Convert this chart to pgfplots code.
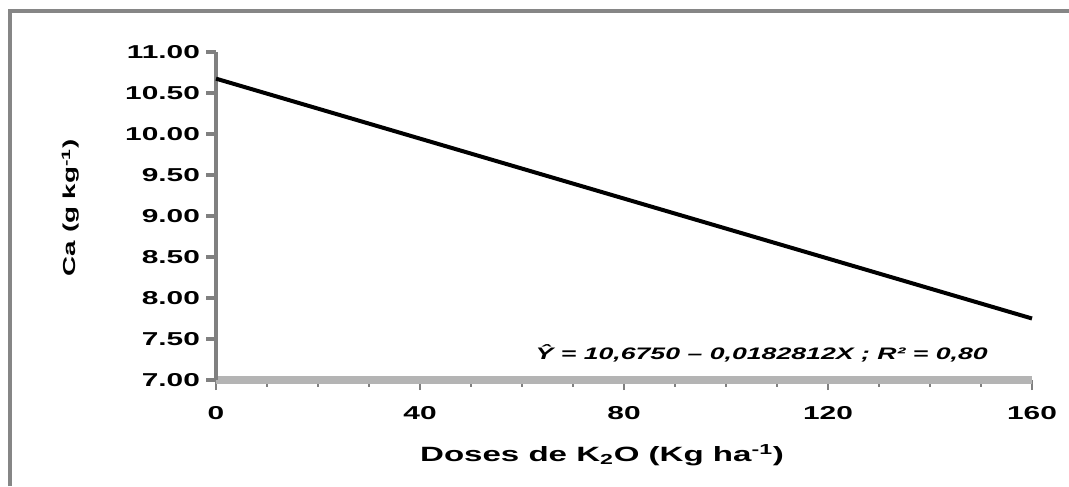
\documentclass[border=0pt]{standalone}
\usepackage{fontspec}
\setmainfont[FakeStretch=1.6]{Liberation Sans}
\usepackage{pgfplots}
\pgfplotsset{compat=1.18}
\definecolor{yaxisgray}{HTML}{808080}
\definecolor{xaxisgray}{HTML}{B4B4B4}
\definecolor{framegray}{HTML}{868686}
\begin{document}
\begin{tikzpicture}
\useasboundingbox (0,0) rectangle (801.75pt,364.5pt);
% outer frame (top and left edges)
\draw[framegray, line width=3pt] (7.5pt,0) -- (7.5pt,356.25pt) -- (801.75pt,356.25pt);
\begin{axis}[
  at={(162pt,79.5pt)}, anchor=origin,
  scale only axis, width=612pt, height=246pt,
  xmin=0, xmax=160, ymin=7, ymax=11,
  axis x line=bottom, axis y line=left,
  x axis line style={-, color=xaxisgray, line width=5.5pt},
  y axis line style={-, color=yaxisgray, line width=2.5pt},
  xtick={0,40,...,160}, minor x tick num=3,
  ytick={7,7.5,...,11},
  tick align=outside,
  major x tick style={color=yaxisgray, line width=2pt},
  minor x tick style={color=yaxisgray, line width=2pt},
  major tick length=7.5pt, minor tick length=5pt,
  y tick style={color=yaxisgray, line width=2.5pt},
  /pgf/number format/assume math mode=true,
  y tick label style={/pgf/number format/fixed, /pgf/number format/fixed zerofill,
    /pgf/number format/precision=2, /pgf/number format/use period, xshift=-1pt},
  tick label style={font=\fontsize{14}{16}\selectfont\bfseries},
  xticklabel style={yshift=-9pt},
  xlabel={Doses de K\textsubscript{2}O (Kg ha\textsuperscript{-1})},
  ylabel={Ca (g kg\textsuperscript{-1})},
  xlabel style={font=\fontsize{15.5}{18}\selectfont\bfseries,
    at={(axis description cs:0.473,-0.229)}, anchor=center},
  ylabel style={font=\fontsize{13}{15}\selectfont\bfseries,
    at={(axis description cs:-0.178,0.525)}, anchor=center},
  clip=false,
]
% fitted regression line Y = 10.6750 - 0.0182812 X
\addplot[black, line width=3pt, line cap=butt] coordinates {(0,10.675) (160,7.75)};
\node[font=\fontsize{12.5}{14}\selectfont\bfseries\itshape, anchor=center]
  at (axis cs:107,7.33) {Ŷ = 10,6750 – 0,0182812X ; R² = 0,80};
\end{axis}
\end{tikzpicture}
\end{document}
